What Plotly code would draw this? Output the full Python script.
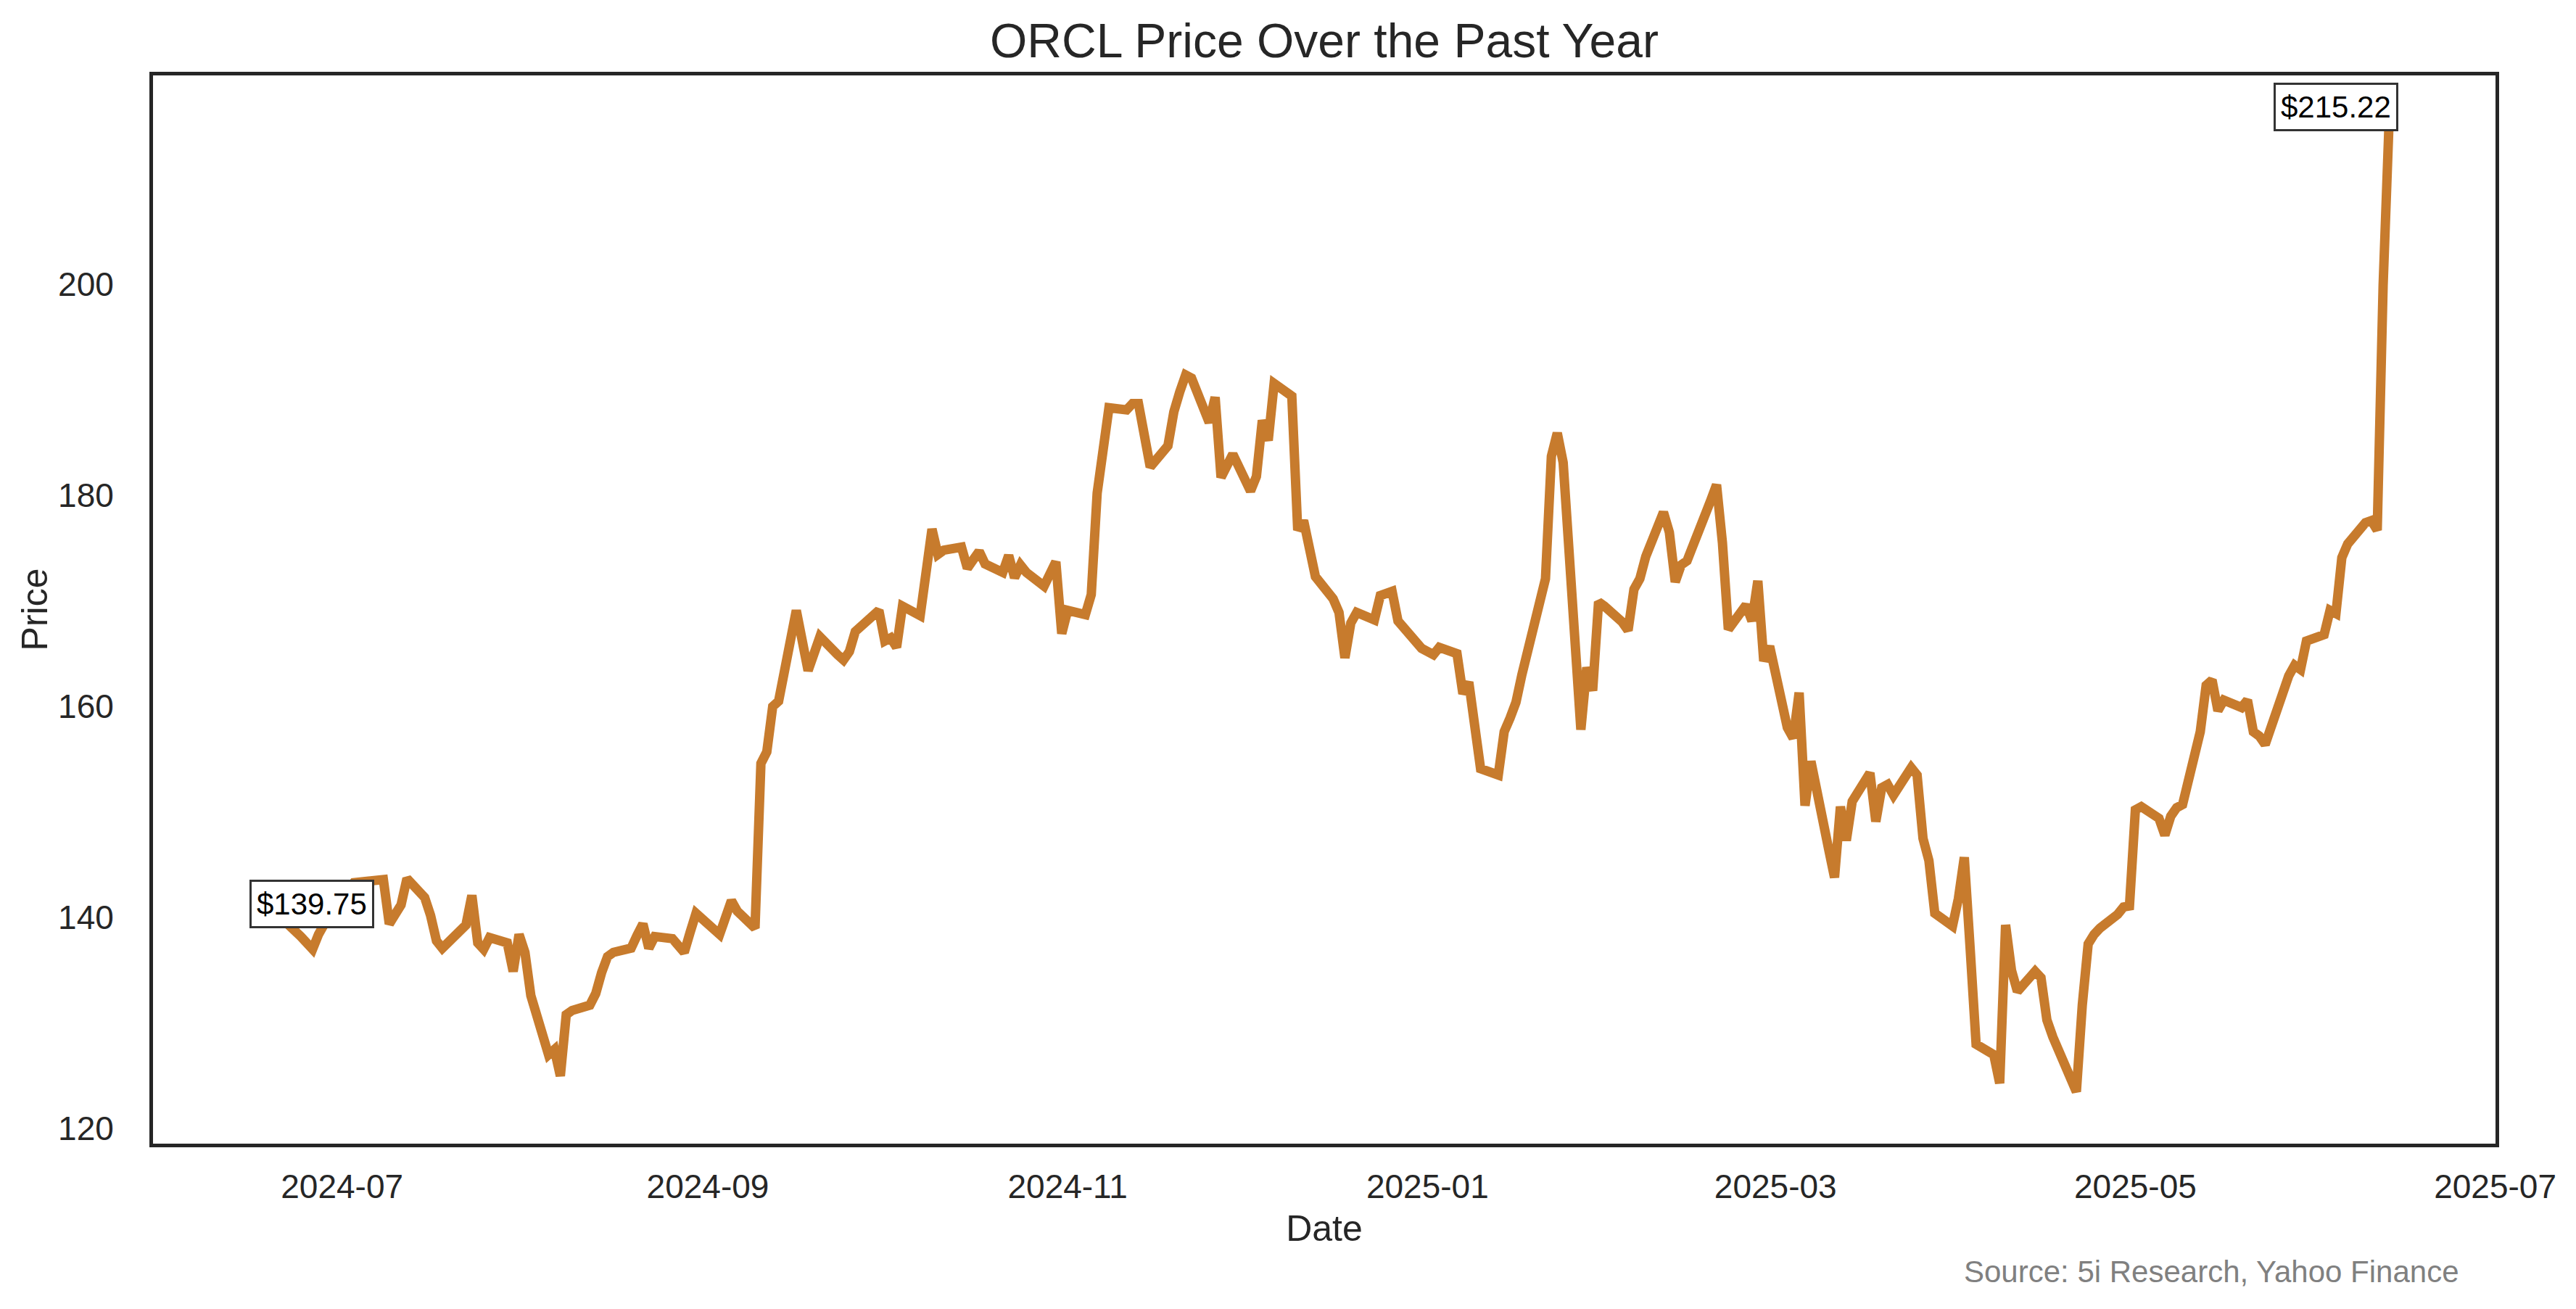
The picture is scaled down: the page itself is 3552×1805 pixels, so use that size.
import plotly.graph_objects as go

# ---------------- data (daily closes) ----------------
dates_2024 = [
    "2024-06-17", "2024-06-18", "2024-06-20", "2024-06-21", "2024-06-24", "2024-06-25", "2024-06-26",
    "2024-06-27", "2024-06-28", "2024-07-01", "2024-07-02", "2024-07-03", "2024-07-05", "2024-07-08",
    "2024-07-09", "2024-07-10", "2024-07-11", "2024-07-12", "2024-07-15", "2024-07-16", "2024-07-17",
    "2024-07-18", "2024-07-19", "2024-07-22", "2024-07-23", "2024-07-24", "2024-07-25", "2024-07-26",
    "2024-07-29", "2024-07-30", "2024-07-31", "2024-08-01", "2024-08-02", "2024-08-05", "2024-08-06",
    "2024-08-07", "2024-08-08", "2024-08-09", "2024-08-12", "2024-08-13", "2024-08-14", "2024-08-15",
    "2024-08-16", "2024-08-19", "2024-08-20", "2024-08-21", "2024-08-22", "2024-08-23", "2024-08-26",
    "2024-08-27", "2024-08-28", "2024-08-29", "2024-08-30", "2024-09-03", "2024-09-04", "2024-09-05",
    "2024-09-06", "2024-09-09", "2024-09-10", "2024-09-11", "2024-09-12", "2024-09-13", "2024-09-16",
    "2024-09-17", "2024-09-18", "2024-09-19", "2024-09-20", "2024-09-23", "2024-09-24", "2024-09-25",
    "2024-09-26", "2024-09-27", "2024-09-30", "2024-10-01", "2024-10-02", "2024-10-03", "2024-10-04",
    "2024-10-07", "2024-10-08", "2024-10-09", "2024-10-10", "2024-10-11", "2024-10-14", "2024-10-15",
    "2024-10-16", "2024-10-17", "2024-10-18", "2024-10-21", "2024-10-22", "2024-10-23", "2024-10-24",
    "2024-10-25", "2024-10-28", "2024-10-29", "2024-10-30", "2024-10-31", "2024-11-01", "2024-11-04",
    "2024-11-05", "2024-11-06", "2024-11-07", "2024-11-08", "2024-11-11", "2024-11-12", "2024-11-13",
    "2024-11-14", "2024-11-15", "2024-11-18", "2024-11-19", "2024-11-20", "2024-11-21", "2024-11-22",
    "2024-11-25", "2024-11-26", "2024-11-27", "2024-11-29", "2024-12-02", "2024-12-03", "2024-12-04",
    "2024-12-05", "2024-12-06", "2024-12-09", "2024-12-10", "2024-12-11", "2024-12-12", "2024-12-13",
    "2024-12-16", "2024-12-17", "2024-12-18", "2024-12-19", "2024-12-20", "2024-12-23", "2024-12-24",
    "2024-12-26", "2024-12-27", "2024-12-30", "2024-12-31",
]
close_2024 = [
    139.75, 143.4, 141.0, 139.8, 138.2, 137.6, 137.0,
    138.4, 139.4, 141.0, 142.5, 143.3, 143.5, 143.6,
    139.4, 140.3, 141.2, 143.7, 141.9, 140.2, 137.8,
    137.1, 137.6, 139.3, 142.1, 137.6, 137.0, 138.1,
    137.6, 134.9, 138.4, 136.7, 132.6, 127.0, 127.5,
    125.0, 130.8, 131.2, 131.7, 132.8, 134.8, 136.3,
    136.7, 137.1, 138.3, 139.4, 137.1, 138.2, 138.0,
    137.4, 136.7, 138.6, 140.4, 138.4, 140.0, 141.6,
    140.6, 139.0, 154.6, 155.7, 160.0, 160.5, 169.1,
    166.2, 163.4, 165.0, 166.6, 164.9, 164.4, 165.2,
    167.1, 167.6, 169.1, 166.2, 166.5, 165.6, 169.5,
    168.6, 172.7, 176.8, 174.4, 174.8, 175.1, 173.1,
    173.9, 174.7, 173.5, 172.7, 174.3, 172.2, 173.4,
    172.7, 171.4, 172.5, 173.7, 166.9, 169.1, 168.7,
    170.6, 180.2, 185.2, 188.3, 188.1, 188.7, 188.7,
    186.0, 182.7, 184.7, 187.9, 189.8, 191.4, 191.1,
    186.9, 189.3, 181.7, 183.9, 180.4, 181.8, 187.1,
    185.2, 190.6, 189.4, 176.7, 177.6, 174.3, 172.3,
    170.2, 168.9, 164.6, 167.9, 168.9, 168.2, 170.5,
    170.9, 168.1, 166.1, 165.5,
]
dates_2025 = [
    "2025-01-02", "2025-01-03", "2025-01-06", "2025-01-07", "2025-01-08", "2025-01-10", "2025-01-13",
    "2025-01-14", "2025-01-15", "2025-01-16", "2025-01-17", "2025-01-21", "2025-01-22", "2025-01-23",
    "2025-01-24", "2025-01-27", "2025-01-28", "2025-01-29", "2025-01-30", "2025-01-31", "2025-02-03",
    "2025-02-04", "2025-02-05", "2025-02-06", "2025-02-07", "2025-02-10", "2025-02-11", "2025-02-12",
    "2025-02-13", "2025-02-14", "2025-02-18", "2025-02-19", "2025-02-20", "2025-02-21", "2025-02-24",
    "2025-02-25", "2025-02-26", "2025-02-27", "2025-02-28", "2025-03-03", "2025-03-04", "2025-03-05",
    "2025-03-06", "2025-03-07", "2025-03-10", "2025-03-11", "2025-03-12", "2025-03-13", "2025-03-14",
    "2025-03-17", "2025-03-18", "2025-03-19", "2025-03-20", "2025-03-21", "2025-03-24", "2025-03-25",
    "2025-03-26", "2025-03-27", "2025-03-28", "2025-03-31", "2025-04-01", "2025-04-02", "2025-04-03",
    "2025-04-04", "2025-04-07", "2025-04-08", "2025-04-09", "2025-04-10", "2025-04-11", "2025-04-14",
    "2025-04-15", "2025-04-16", "2025-04-17", "2025-04-21", "2025-04-22", "2025-04-23", "2025-04-24",
    "2025-04-25", "2025-04-28", "2025-04-29", "2025-04-30", "2025-05-01", "2025-05-02", "2025-05-05",
    "2025-05-06", "2025-05-07", "2025-05-08", "2025-05-09", "2025-05-12", "2025-05-13", "2025-05-14",
    "2025-05-15", "2025-05-16", "2025-05-19", "2025-05-20", "2025-05-21", "2025-05-22", "2025-05-23",
    "2025-05-27", "2025-05-28", "2025-05-29", "2025-05-30", "2025-06-02", "2025-06-03", "2025-06-04",
    "2025-06-05", "2025-06-06", "2025-06-09", "2025-06-10", "2025-06-11", "2025-06-12", "2025-06-13",
]
close_2025 = [
    164.9, 165.6, 165.0, 161.2, 162.3, 154.1, 153.5,
    157.6, 158.9, 160.4, 163.0, 172.1, 183.7, 185.9,
    183.1, 157.8, 163.7, 161.5, 169.9, 169.5, 168.0,
    167.2, 171.1, 172.1, 174.2, 178.4, 176.5, 171.8,
    173.4, 173.8, 179.5, 181.0, 175.5, 167.3, 169.6,
    168.1, 171.9, 164.3, 165.7, 158.0, 157.0, 161.3,
    150.6, 154.8, 146.5, 143.8, 150.5, 147.3, 151.0,
    153.7, 149.1, 152.3, 152.6, 151.6, 154.2, 153.5,
    147.5, 145.4, 140.4, 139.2, 141.8, 145.7, 137.0,
    128.0, 127.0, 124.3, 139.3, 135.0, 133.0, 134.9,
    134.3, 130.3, 128.7, 123.5, 131.7, 137.5, 138.4,
    139.0, 140.3, 141.0, 141.1, 150.2, 150.5, 149.4,
    147.8, 149.6, 150.4, 150.7, 157.6, 162.0, 162.5,
    159.6, 160.6, 159.9, 160.6, 157.6, 157.2, 156.4,
    162.9, 163.9, 163.5, 166.2, 166.8, 169.1, 168.8,
    174.1, 175.4, 177.4, 177.6, 176.7, 199.9, 215.22,
]

dates = dates_2024 + dates_2025
close = close_2024 + close_2025

TITLE = "ORCL Price Over the Past Year"
X_TITLE = "Date"
Y_TITLE = "Price"
SOURCE = "Source: 5i Research, Yahoo Finance"

# ---------------- styling ----------------
FONT = "Liberation Sans, Arial, sans-serif"
LINE_COLOR = "#C77B2D"
FRAME = "#262626"

fig = go.Figure()
fig.add_trace(go.Scatter(
    x=dates, y=close, mode="lines",
    line=dict(color=LINE_COLOR, width=13),
    hoverinfo="skip", showlegend=False,
))

label_style = dict(
    showarrow=False, bgcolor="white", bordercolor="#333333", borderwidth=3, borderpad=7,
    font=dict(family=FONT, size=42, color="black"),
)
fig.add_annotation(x=dates[0], y=close[0], text=f"${close[0]:.2f}",
                   xanchor="left", yanchor="middle", xshift=-14, yshift=22, **label_style)
fig.add_annotation(x=dates[-1], y=close[-1], text=f"${close[-1]:.2f}",
                   xanchor="right", yanchor="middle", xshift=13, yshift=23, **label_style)
fig.add_annotation(text=SOURCE, xref="paper", yref="paper", x=0.985, y=-0.1195,
                   xanchor="right", yanchor="middle", showarrow=False,
                   font=dict(family=FONT, size=42, color="#808080"))

axis_common = dict(
    showgrid=False, zeroline=False, showline=True, linecolor=FRAME, linewidth=5, mirror=True,
    ticks="outside", tickcolor="rgba(0,0,0,0)", tickfont=dict(family=FONT, size=46, color=FRAME),
    automargin=False,
)

fig.update_layout(
    width=3552, height=1805,
    margin=dict(l=211, r=111, t=104, b=228, pad=0),
    plot_bgcolor="white", paper_bgcolor="white",
    hovermode=False,
    title=dict(text=TITLE, x=0.5, xref="paper", xanchor="center",
               y=1 - 56 / 1805, yref="container", yanchor="middle",
               font=dict(family=FONT, size=66, color=FRAME)),
    xaxis=dict(type="date", range=["2024-05-29 22:48", "2025-07-01 01:12"],
               tick0="2024-07-01", dtick="M2", tickformat="%Y-%m", ticklen=15,
               title=dict(text=X_TITLE, font=dict(family=FONT, size=50, color=FRAME), standoff=16),
               **axis_common),
    yaxis=dict(range=[118.58, 219.78], tick0=120, dtick=20, ticklen=40,
               title=dict(text=Y_TITLE, font=dict(family=FONT, size=50, color=FRAME), standoff=0),
               **axis_common),
)

fig.write_html("out.html", config={"displayModeBar": False},
               post_script="document.body.style.margin='0';")
